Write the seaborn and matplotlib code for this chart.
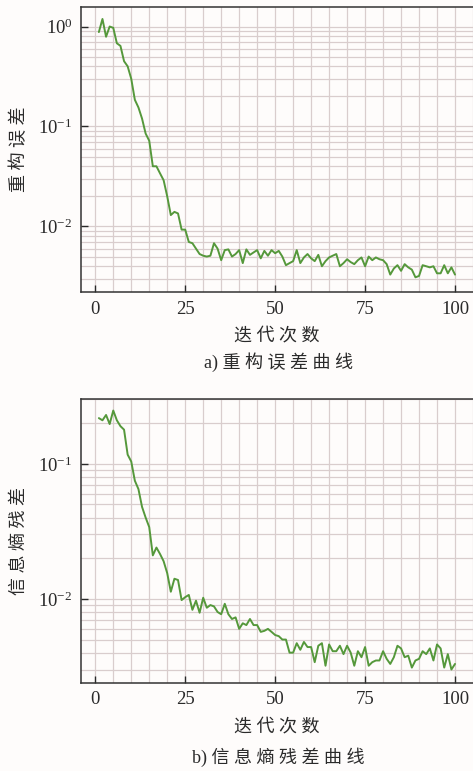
import numpy as np
import pandas as pd
import seaborn as sns
import matplotlib.pyplot as plt
from matplotlib.ticker import LogLocator, MultipleLocator, NullFormatter

# iteration index and the two error curves
iters = list(range(1, 101))
recon_err = [
    0.88, 1.19, 0.79, 1.0, 0.97, 0.68, 0.64, 0.45, 0.40, 0.30,
    0.185, 0.155, 0.12, 0.085, 0.072, 0.040, 0.040, 0.034, 0.029, 0.020,
    0.013, 0.014, 0.0135, 0.0093, 0.0093, 0.0070, 0.0068, 0.0060, 0.0053, 0.0051,
    0.0050, 0.0051, 0.0068, 0.0060, 0.0046, 0.0058, 0.0059, 0.0050, 0.0053, 0.0058,
    0.0043, 0.0059, 0.0052, 0.0055, 0.0058, 0.0048, 0.0057, 0.0051, 0.0058, 0.0054,
    0.0057, 0.0050, 0.0041, 0.0043, 0.0045, 0.0058, 0.0043, 0.0049, 0.0053, 0.0048,
    0.0045, 0.0052, 0.0040, 0.0045, 0.0049, 0.0051, 0.0053, 0.0040, 0.0043, 0.0047,
    0.0044, 0.0042, 0.0046, 0.0049, 0.0040, 0.0050, 0.0046, 0.0049, 0.0047, 0.0046,
    0.0042, 0.0033, 0.0038, 0.0041, 0.0036, 0.0042, 0.0039, 0.0037, 0.0031, 0.0032,
    0.0041, 0.0040, 0.0039, 0.0040, 0.0034, 0.0034, 0.0041, 0.0034, 0.0039, 0.0033,
]
entropy_res = [
    0.218, 0.21, 0.23, 0.197, 0.248, 0.210, 0.19, 0.179, 0.117, 0.104,
    0.075, 0.065, 0.048, 0.040, 0.034, 0.021, 0.024, 0.0215, 0.019, 0.0155,
    0.0113, 0.0141, 0.0138, 0.0098, 0.0103, 0.0107, 0.0083, 0.0097, 0.0079, 0.0102,
    0.0086, 0.0090, 0.0088, 0.0080, 0.0077, 0.0092, 0.0077, 0.0071, 0.0073, 0.0060,
    0.0066, 0.0064, 0.0071, 0.0064, 0.0064, 0.0057, 0.0058, 0.0060, 0.0057, 0.0054,
    0.0053, 0.0050, 0.0050, 0.0040, 0.0040, 0.0047, 0.0042, 0.0048, 0.0044, 0.0044,
    0.0034, 0.0045, 0.0047, 0.0032, 0.0046, 0.0041, 0.0041, 0.0045, 0.0039, 0.0045,
    0.0040, 0.0032, 0.0041, 0.0037, 0.0044, 0.0032, 0.0034, 0.0035, 0.0035, 0.0041,
    0.0036, 0.0033, 0.0037, 0.0045, 0.0043, 0.0037, 0.0038, 0.0031, 0.0035, 0.0036,
    0.0041, 0.0039, 0.0043, 0.0035, 0.0046, 0.0043, 0.0031, 0.0039, 0.0030, 0.0033,
]
xticks = [0, 25, 50, 75, 100]
ylabels = ['重 构 误 差', '信 息 熵 残 差']
captions = ['a) 重 构 误 差 曲 线', 'b) 信 息 熵 残 差 曲 线']
xlabel = '迭 代 次 数'

sns.set_style('ticks')
plt.rcParams['font.family'] = ['Liberation Serif', 'Noto Sans CJK SC']
plt.rcParams['mathtext.fontset'] = 'stix'

bg = '#fefcfb'
grid_c = '#d9cdcd'
line_c = '#55983b'
txt_c = '#2a2a2a'

fig = plt.figure(figsize=(4.73, 7.71), dpi=100, facecolor=bg)
ax1 = fig.add_axes([0.171, 0.621, 0.829, 0.370])
ax2 = fig.add_axes([0.171, 0.114, 0.829, 0.368])

panels = [
    (ax1, recon_err, (2.2e-3, 1.57), 362.0),
    (ax2, entropy_res, (2.38e-3, 0.30), 757.0),
]

for i, (ax, vals, ylim, cap_px) in enumerate(panels):
    df = pd.DataFrame({'iter': iters, 'val': vals})
    ax.set_facecolor(bg)
    sns.lineplot(data=df, x='iter', y='val', ax=ax, color=line_c, linewidth=1.4)
    ax.set_yscale('log')
    ax.set_xlim(-4, 105)
    ax.set_ylim(*ylim)

    ax.xaxis.set_minor_locator(MultipleLocator(5))
    ax.yaxis.set_major_locator(LogLocator(base=10))
    ax.yaxis.set_minor_locator(LogLocator(base=10, subs=np.arange(2, 10)))
    ax.yaxis.set_minor_formatter(NullFormatter())
    ax.set_xticks(xticks)

    ax.grid(True, which='both', color=grid_c, linewidth=0.9)
    ax.set_axisbelow(True)
    ax.tick_params(which='major', direction='in', length=5, width=1,
                   labelsize=13.5, colors=txt_c, pad=6)
    ax.tick_params(which='minor', length=0)
    for s in ['left', 'bottom', 'top']:
        ax.spines[s].set_color('#333333')
        ax.spines[s].set_linewidth(1.1)
    ax.spines['right'].set_visible(False)

    ax.set_xlabel(xlabel, fontsize=13, color=txt_c, labelpad=7, fontweight='light')
    ax.set_ylabel(ylabels[i], fontsize=13, color=txt_c, fontweight='light')
    ax.yaxis.set_label_coords(-0.135, 0.5)

    fig.text(0.588, 1 - cap_px / 771, captions[i], ha='center', va='center',
             fontsize=13, color=txt_c, fontweight='light')

plt.savefig('out.png', dpi=100, facecolor=bg)
